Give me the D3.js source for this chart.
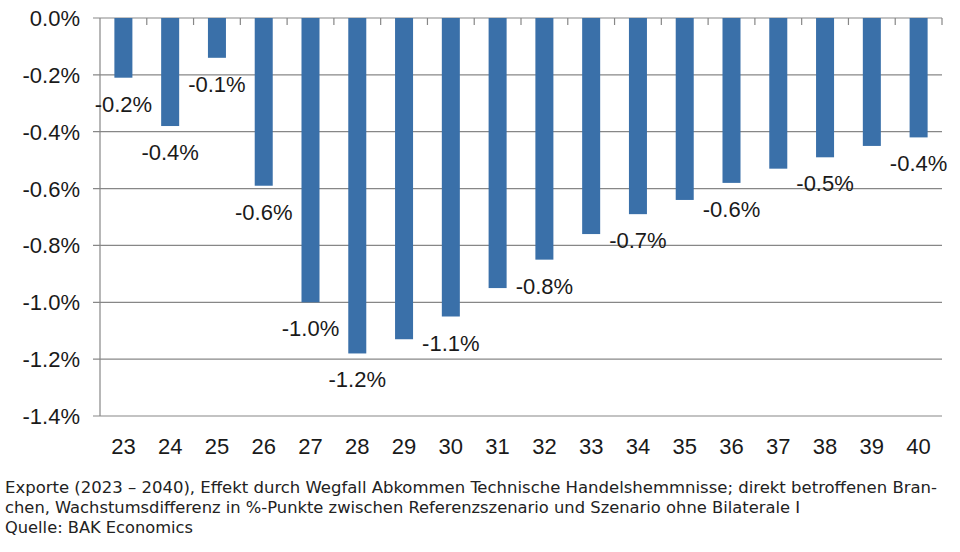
<!DOCTYPE html>
<html>
<head>
<meta charset="utf-8">
<script src="https://cdn.jsdelivr.net/npm/d3@7"></script>
<style>
  html, body { margin: 0; padding: 0; background: #fff; }
  svg { display: block; }
</style>
</head>
<body>
<svg id="chart" width="960" height="552"></svg>
<script>
const categories = ["23","24","25","26","27","28","29","30","31","32","33","34","35","36","37","38","39","40"];
const values = [-0.21,-0.38,-0.14,-0.59,-1.00,-1.18,-1.13,-1.05,-0.95,-0.85,-0.76,-0.69,-0.64,-0.58,-0.53,-0.49,-0.45,-0.42];
const labels = ["-0.2%","-0.4%","-0.1%","-0.6%","-1.0%","-1.2%","","-1.1%","","-0.8%","","-0.7%","","-0.6%","","-0.5%","","-0.4%"];
const yTicks = [0,-0.2,-0.4,-0.6,-0.8,-1.0,-1.2,-1.4];
const captionLines = [
  "Exporte (2023 \u2013 2040), Effekt durch Wegfall Abkommen Technische Handelshemmnisse; direkt betroffenen Bran-",
  "chen, Wachstumsdifferenz in %-Punkte zwischen Referenzszenario und Szenario ohne Bilaterale I",
  "Quelle: BAK Economics"
];
const captionWidths = [932, 795, 188];

(function () {
const svg = d3.select("#chart");
const mL = 100, mR = 942, mT = 18, mB = 416;
const font = "'Liberation Sans', Arial, sans-serif";
const gridColor = "#878787";
const fs = 22;

const x = d3.scaleBand().domain(categories).range([mL, mR]).paddingInner(0.615).paddingOuter(0.3075);
const y = d3.scaleLinear().domain([0, -1.4]).range([mT, mB]);

// gridlines
svg.append("g").selectAll("line").data(yTicks).join("line")
  .attr("x1", mL - 7).attr("x2", mR)
  .attr("y1", d => y(d)).attr("y2", d => y(d))
  .attr("stroke", gridColor).attr("stroke-width", 1.2);

// y axis line
svg.append("line").attr("x1", mL).attr("x2", mL).attr("y1", y(0)).attr("y2", y(-1.4))
  .attr("stroke", gridColor).attr("stroke-width", 1.2);

// category boundary ticks on zero line
const step = x.step();
const bounds = d3.range(1, categories.length + 1).map(i => mL + i * step);
svg.append("g").selectAll("line").data(bounds).join("line")
  .attr("x1", d => d).attr("x2", d => d)
  .attr("y1", y(0)).attr("y2", y(0) + 7)
  .attr("stroke", gridColor).attr("stroke-width", 1.2);

// y tick labels
svg.append("g").selectAll("text").data(yTicks).join("text")
  .attr("x", 80).attr("y", d => y(d) + 8)
  .attr("text-anchor", "end")
  .attr("font-family", font).attr("font-size", fs).attr("fill", "#1a1a1a")
  .text(d => d3.format(".1f")(d).replace("\u2212", "-") + "%");

// bars
svg.append("g").selectAll("rect").data(values).join("rect")
  .attr("x", (d, i) => x(categories[i]))
  .attr("width", x.bandwidth())
  .attr("y", y(0))
  .attr("height", d => y(d) - y(0))
  .attr("fill", "#3a70a9");

// data labels
svg.append("g").selectAll("text").data(values).join("text")
  .attr("x", (d, i) => x(categories[i]) + x.bandwidth() / 2)
  .attr("y", d => y(d) + 34)
  .attr("text-anchor", "middle")
  .attr("font-family", font).attr("font-size", fs).attr("fill", "#1a1a1a")
  .text((d, i) => labels[i]);

// x labels
svg.append("g").selectAll("text").data(categories).join("text")
  .attr("x", d => x(d) + x.bandwidth() / 2)
  .attr("y", 454)
  .attr("text-anchor", "middle")
  .attr("font-family", font).attr("font-size", fs).attr("fill", "#1a1a1a")
  .text(d => d);

// caption
svg.append("g").selectAll("text").data(captionLines).join("text")
  .attr("x", 5).attr("y", (d, i) => 493 + i * 20)
  .attr("font-family", "'Liberation Sans Narrow', 'DejaVu Sans Condensed', sans-serif")
  .attr("font-size", 15.5).attr("fill", "#222")
  .attr("textLength", (d, i) => captionWidths[i])
  .attr("lengthAdjust", "spacingAndGlyphs")
  .text(d => d);
})();
</script>
</body>
</html>
